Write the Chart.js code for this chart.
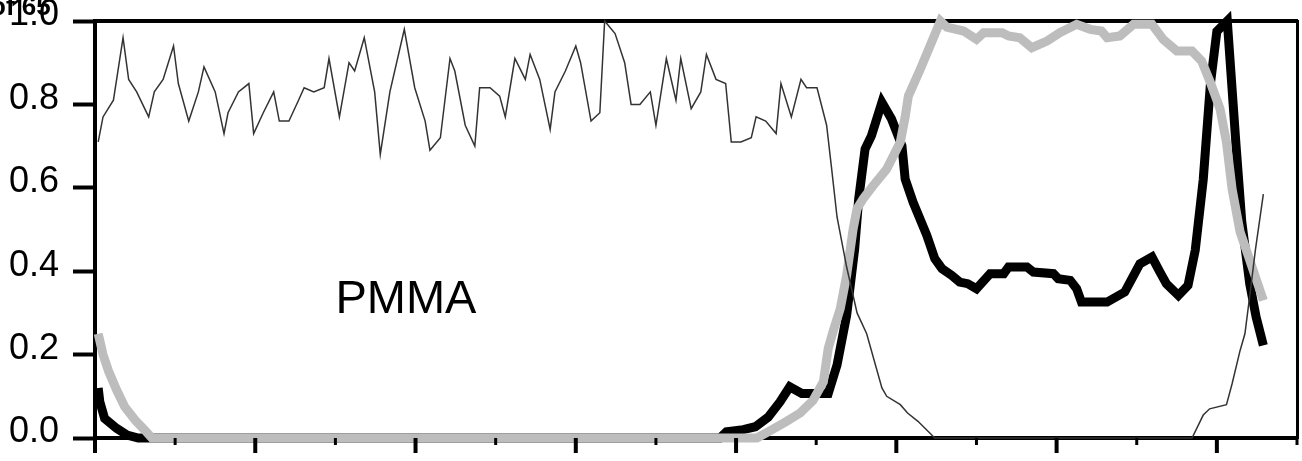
<!DOCTYPE html>
<html>
<head>
<meta charset="utf-8">
<script src="https://cdn.jsdelivr.net/npm/chart.js@4"></script>
<style>
  html, body { margin: 0; padding: 0; background: #fff; }
  #wrap { width: 1302px; height: 461px; position: relative; }
</style>
</head>
<body>
<div id="wrap"><canvas id="profileChart"></canvas></div>
<script>
// depth profile, values (x in axis units, y normalised)
var thinX = [0.4, 1.0, 2.3, 3.5, 4.2, 5.2, 6.7, 7.4, 8.5, 9.8, 10.4, 11.7, 12.9, 13.6, 15.0, 16.1, 16.6, 17.9, 19.2, 19.8,
  21.0, 22.3, 23.0, 24.2, 25.4, 26.1, 27.3, 28.6, 29.2, 30.5, 31.7, 32.4, 33.6, 34.9, 35.6, 36.8, 38.6, 39.9, 41.2, 41.8,
  43.1, 44.3, 44.9, 46.2, 47.4, 48.0, 49.3, 50.5, 51.2, 52.4, 53.7, 54.3, 55.5, 56.8, 57.4, 58.7, 60.0, 60.6, 61.9, 63.0,
  63.6, 64.9, 66.1, 66.9, 68.0, 69.3, 70.0, 71.3, 72.5, 73.1, 74.4, 75.6, 76.3, 77.5, 78.7, 79.4, 80.6, 81.9, 82.5, 83.7,
  85.0, 85.6, 86.9, 88.1, 88.8, 90.1, 91.3, 91.9, 92.6, 93.8, 95.1, 96.3, 98.2, 98.8, 100.5, 101.4, 102.7, 104.8,
  136.9, 138.3, 139.1, 141.2, 141.9, 142.9, 143.5, 144.1, 144.8, 145.8];
var thinY = [0.71, 0.77, 0.81, 0.96, 0.86, 0.83, 0.77, 0.83, 0.86, 0.94, 0.85, 0.76, 0.83, 0.89, 0.83, 0.73, 0.78, 0.83, 0.85, 0.73,
  0.78, 0.83, 0.76, 0.76, 0.81, 0.84, 0.83, 0.84, 0.91, 0.77, 0.90, 0.88, 0.96, 0.83, 0.68, 0.83, 0.98, 0.84, 0.76, 0.69,
  0.72, 0.91, 0.88, 0.75, 0.70, 0.84, 0.84, 0.82, 0.77, 0.91, 0.86, 0.92, 0.86, 0.74, 0.83, 0.88, 0.94, 0.90, 0.76, 0.78,
  1.00, 0.97, 0.90, 0.80, 0.80, 0.83, 0.75, 0.91, 0.81, 0.91, 0.79, 0.83, 0.92, 0.86, 0.85, 0.71, 0.71, 0.72, 0.77, 0.76,
  0.73, 0.85, 0.77, 0.86, 0.84, 0.84, 0.75, 0.65, 0.53, 0.41, 0.30, 0.25, 0.12, 0.10, 0.08, 0.06, 0.04, 0.00,
  0.00, 0.055, 0.07, 0.08, 0.13, 0.21, 0.25, 0.34, 0.45, 0.585];

var blackX = [0.4, 0.6, 1.2, 2.7, 4.0, 5.4, 78.0, 78.8, 80.9, 82.4, 84.0, 85.5, 86.7, 88.2, 91.5, 92.6, 93.8, 94.8, 95.3, 96.1,
  96.9, 98.2, 99.4, 100.7, 101.1, 102.1, 103.8, 104.8, 105.7, 106.9, 107.9, 108.9, 110.0, 111.7, 113.4, 114.0, 116.3, 117.1,
  119.6, 120.2, 121.7, 122.5, 123.1, 126.3, 128.5, 129.4, 130.4, 131.9, 132.9, 133.7, 135.2, 136.4, 137.3, 138.3, 139.2,
  140.0, 141.3, 142.4, 143.1, 144.1, 144.9, 145.8];
var blackY = [0.12, 0.087, 0.047, 0.023, 0.007, 0.0, 0.0, 0.015, 0.02, 0.027, 0.05, 0.087, 0.123, 0.107, 0.107, 0.175, 0.294, 0.454, 0.573, 0.693,
  0.725, 0.805, 0.765, 0.701, 0.621, 0.565, 0.486, 0.43, 0.406, 0.39, 0.374, 0.37, 0.358, 0.394, 0.394, 0.41, 0.41, 0.398,
  0.394, 0.382, 0.378, 0.358, 0.326, 0.326, 0.35, 0.382, 0.418, 0.434, 0.398, 0.37, 0.342, 0.366, 0.45, 0.62, 0.85,
  0.975, 1.0, 0.70, 0.52, 0.37, 0.29, 0.222];

var grayX = [0.4, 1.0, 1.7, 2.7, 3.7, 5.0, 6.2, 7.1, 82.6, 84.5, 86.3, 88.0, 89.6, 90.9, 91.5, 92.1, 93.0, 93.8, 94.6, 95.1,
  95.9, 97.1, 98.8, 100.5, 101.1, 101.5, 103.0, 104.2, 105.5, 106.3, 108.4, 110.0, 110.9, 113.2, 114.0, 115.4, 116.9, 118.8,
  120.4, 122.5, 124.2, 125.6, 126.3, 127.9, 129.6, 131.9, 133.3, 135.0, 136.9, 138.1, 139.2, 140.4, 141.2, 141.9, 142.9,
  143.9, 145.8];
var grayY = [0.25, 0.20, 0.16, 0.115, 0.075, 0.043, 0.019, 0.0, 0.0, 0.02, 0.04, 0.06, 0.09, 0.135, 0.215, 0.255, 0.31, 0.39, 0.50, 0.55,
  0.575, 0.605, 0.645, 0.71, 0.77, 0.82, 0.885, 0.94, 1.0, 0.985, 0.976, 0.956, 0.972, 0.972, 0.964, 0.96, 0.936, 0.952,
  0.972, 0.992, 0.98, 0.976, 0.96, 0.964, 0.992, 0.992, 0.956, 0.928, 0.928, 0.904, 0.852, 0.789, 0.709, 0.597, 0.494,
  0.438, 0.33];

var sampleLabel = 'PMMA';
var cornerLabel = 'of 65';

function toPoints(xs, ys) {
  return xs.map(function(x, i) { return { x: x, y: ys[i] }; });
}

function isMajorY(v) {
  return Math.round(v * 10) % 2 === 0;
}

// short minor ticks (y) and major/minor ticks under the bottom axis
var axisTicks = {
  id: 'axisTicks',
  afterDraw: function(chart) {
    var ctx = chart.ctx, sx = chart.scales.x, sy = chart.scales.y, area = chart.chartArea;
    ctx.save();
    ctx.strokeStyle = '#000';
    sx.ticks.forEach(function(t) {
      var major = Math.round(t.value) % 20 === 0;
      var px = sx.getPixelForValue(t.value);
      ctx.lineWidth = major ? 4 : 3;
      ctx.beginPath();
      ctx.moveTo(px, area.bottom);
      ctx.lineTo(px, area.bottom + (major ? 15 : 7));
      ctx.stroke();
    });
    sy.ticks.forEach(function(t) {
      if (isMajorY(t.value)) return;
      var py = sy.getPixelForValue(t.value);
      ctx.lineWidth = 3;
      ctx.beginPath();
      ctx.moveTo(area.left, py);
      ctx.lineTo(area.left - 12, py);
      ctx.stroke();
    });
    ctx.restore();
  }
};

var figureText = {
  id: 'figureText',
  afterDraw: function(chart) {
    var ctx = chart.ctx, sx = chart.scales.x, sy = chart.scales.y;
    ctx.save();
    ctx.fillStyle = '#000';
    ctx.textBaseline = 'alphabetic';
    ctx.font = '47px "Liberation Sans", Arial, sans-serif';
    ctx.fillText(sampleLabel, sx.getPixelForValue(30), sy.getPixelForValue(0.30));
    ctx.font = 'bold 26px "Liberation Sans", Arial, sans-serif';
    ctx.fillText(cornerLabel, -10, 15);
    ctx.restore();
  }
};

var ctx = document.getElementById('profileChart').getContext('2d');
new Chart(ctx, {
  type: 'line',
  data: {
    datasets: [{
      label: 'thin',
      data: toPoints(thinX, thinY),
      borderColor: '#333333',
      borderWidth: 1.5,
      pointRadius: 0,
      tension: 0,
      clip: false,
      order: 1
    }, {
      label: 'gray',
      data: toPoints(grayX, grayY),
      borderColor: '#bdbdbd',
      borderWidth: 9,
      pointRadius: 0,
      tension: 0,
      clip: false,
      order: 2
    }, {
      label: 'black',
      data: toPoints(blackX, blackY),
      borderColor: '#000000',
      borderWidth: 9,
      pointRadius: 0,
      tension: 0,
      clip: false,
      order: 3
    }]
  },
  options: {
    responsive: true,
    maintainAspectRatio: false,
    animation: false,
    layout: { padding: { left: 9, right: 5, top: 21, bottom: 23 } },
    plugins: {
      legend: { display: false },
      tooltip: { enabled: false }
    },
    scales: {
      x: {
        type: 'linear',
        min: 0,
        max: 150,
        ticks: { stepSize: 10, display: false },
        grid: { display: false, drawTicks: false },
        border: { display: true, color: '#000', width: 4 }
      },
      y: {
        min: 0,
        max: 1,
        afterFit: function(scale) {
          // keep the plot frame where the figure has it
          scale.width = 86;
          scale.paddingTop = 0;
          scale.paddingBottom = 0;
        },
        ticks: {
          stepSize: 0.1,
          padding: 14,
          labelOffset: -5.5,
          color: '#000',
          font: { family: '"Liberation Sans", Arial, sans-serif', size: 36, lineHeight: 1.12 },
          callback: function(v) {
            return isMajorY(v) ? v.toFixed(1) : '';
          }
        },
        grid: {
          drawOnChartArea: false,
          tickLength: 22,
          tickWidth: 4,
          tickColor: function(c) {
            return c.tick && isMajorY(c.tick.value) ? '#000' : 'rgba(0,0,0,0)';
          }
        },
        border: { color: '#000', width: 4 }
      },
      xTop: {
        type: 'linear',
        position: 'top',
        min: 0,
        max: 1,
        ticks: { display: false },
        grid: { display: false, drawTicks: false },
        border: { color: '#000', width: 4 }
      },
      yRight: {
        type: 'linear',
        position: 'right',
        min: 0,
        max: 1,
        ticks: { display: false },
        grid: { display: false, drawTicks: false },
        border: { color: '#000', width: 3 }
      }
    }
  },
  plugins: [axisTicks, figureText]
});
</script>
</body>
</html>
